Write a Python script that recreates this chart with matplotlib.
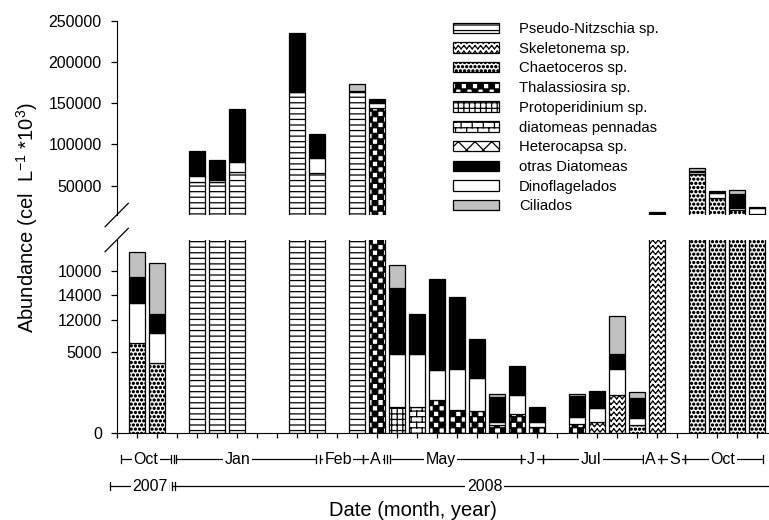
import warnings
import numpy as np
import matplotlib
matplotlib.use("Agg")
import matplotlib.pyplot as plt
from matplotlib import hatch as mhatch
from matplotlib.path import Path
from matplotlib.lines import Line2D
from matplotlib.patches import Patch
import matplotlib.transforms as mtransforms

warnings.filterwarnings("ignore", category=matplotlib.MatplotlibDeprecationWarning)

# ---------------------------------------------------------------- data
# bar slot on the time axis (one slot per sampling date)
slots = [1, 2, 4, 5, 6, 9, 10, 12, 13, 14, 15, 16, 17, 18, 19, 20, 21,
         23, 24, 25, 26, 27, 29, 30, 31, 32]

pseudo_nitzschia = [0, 0, 55000, 55000, 67000, 163000, 65500, 164000, 0, 0, 0, 0, 0,
                    0, 0, 0, 0, 0, 0, 0, 0, 0, 0, 0, 0, 0]
skeletonema = [0, 0, 0, 0, 0, 0, 0, 0, 0, 0, 0, 0, 0, 0, 0, 0, 0,
               0, 700, 2350, 0, 14500, 0, 0, 0, 0]
chaetoceros = [5540, 4340, 0, 0, 0, 0, 0, 0, 0, 0, 0, 0, 0, 0, 0, 0, 0,
               0, 0, 0, 490, 0, 64000, 35000, 20000, 15500]
thalassiosira = [0, 0, 0, 0, 0, 0, 0, 0, 144000, 0, 0, 2040, 1420, 1340, 500, 1170, 390,
                 560, 0, 0, 0, 0, 0, 0, 0, 0]
protoperidinium = [0, 0, 0, 0, 0, 0, 0, 0, 0, 1590, 0, 0, 0, 0, 0, 0, 0,
                   0, 0, 0, 0, 0, 0, 0, 0, 0]
diatomeas_pennadas = [0, 0, 0, 0, 0, 0, 0, 0, 0, 0, 1620, 0, 0, 0, 0, 0, 0,
                      0, 0, 0, 0, 0, 0, 0, 0, 0]
heterocapsa = [0] * 26
dinoflagelados = [2460, 1850, 7000, 2500, 12000, 500, 18500, 0, 6000, 3270, 3260, 1850,
                  2530, 2070, 200, 1180, 310, 410, 860, 1580, 420, 0, 3000, 6500, 2500, 7500]
otras_diatomeas = [1610, 1160, 30000, 23500, 63500, 70500, 29000, 1000, 4500, 4070, 2470,
                   5600, 4430, 2370, 1550, 1750, 920, 1330, 1030, 930, 1230, 3500, 1000,
                   1500, 17000, 1500]
ciliados = [1580, 3160, 0, 0, 0, 1200, 0, 8000, 0, 1460, 0, 0, 0, 0, 150, 60, 0,
            130, 0, 2360, 410, 0, 3000, 0, 4800, 0]

upper_ticks = [50000, 100000, 150000, 200000, 250000]
lower_ticks = [0, 5000, 7000, 8500, 10000]
lower_tick_labels = ["0", "5000", "12000", "14000", "10000"]

month_names = ["Oct", "Jan", "Feb", "A", "May", "J", "Jul", "A", "S", "Oct"]
year_names = ["2007", "2008"]

# --------------------------------------------------------- custom hatches
class ZigZagHatch(mhatch.HatchPatternBase):
    def __init__(self, hatch, density):
        self.n = hatch.count('z') * density
        self.num_vertices = self.n * self.n * 4

    def set_vertices_and_codes(self, vertices, codes):
        n = self.n
        s = 1.0 / n
        amp = 0.28 * s
        k = 0
        for i in range(n):
            yc = (i + 0.5) * s
            for j in range(n):
                x0 = j * s
                vertices[k:k + 4] = [(x0, yc - amp), (x0 + s / 2, yc + amp),
                                     (x0 + s / 2, yc + amp), (x0 + s, yc - amp)]
                codes[k:k + 4] = [Path.MOVETO, Path.LINETO, Path.MOVETO, Path.LINETO]
                k += 4


class CheckerHatch(mhatch.HatchPatternBase):
    def __init__(self, hatch, density):
        self.n = hatch.count('c') * density
        self.n -= self.n % 2
        self.num_vertices = (self.n * self.n // 2) * 5

    def set_vertices_and_codes(self, vertices, codes):
        n = self.n
        s = 1.0 / n
        k = 0
        for i in range(n):
            for j in range(n):
                if (i + j) % 2 == 0:
                    x0, y0 = j * s, i * s
                    vertices[k:k + 5] = [(x0, y0), (x0 + s, y0), (x0 + s, y0 + s),
                                         (x0, y0 + s), (x0, y0)]
                    codes[k:k + 5] = [Path.MOVETO, Path.LINETO, Path.LINETO,
                                      Path.LINETO, Path.CLOSEPOLY]
                    k += 5


class BrickHatch(mhatch.HatchPatternBase):
    def __init__(self, hatch, density):
        self.n = hatch.count('b') * density
        self.n -= self.n % 2
        self.num_vertices = 2 * self.n + 2 * self.n * (self.n // 2)

    def set_vertices_and_codes(self, vertices, codes):
        n = self.n
        s = 1.0 / n
        k = 0
        for i in range(n):
            vertices[k:k + 2] = [(0, i * s), (1, i * s)]
            codes[k:k + 2] = [Path.MOVETO, Path.LINETO]
            k += 2
        for i in range(n):
            shift = s if i % 2 else 0.0
            for j in range(n // 2):
                x = j * 2 * s + shift
                vertices[k:k + 2] = [(x, i * s), (x, (i + 1) * s)]
                codes[k:k + 2] = [Path.MOVETO, Path.LINETO]
                k += 2


class SpeckleHatch(mhatch.Circles):
    size = 0.24
    filled = True

    def __init__(self, hatch, density):
        self.num_rows = hatch.count('d') * density
        super().__init__(hatch, density)


mhatch._hatch_types.extend([ZigZagHatch, CheckerHatch, BrickHatch, SpeckleHatch])

# ---------------------------------------------------------------- style
plt.rcParams.update({
    "font.family": ["Liberation Sans", "DejaVu Sans"],
    "mathtext.fontset": "custom",
    "mathtext.rm": "Liberation Sans",
    "mathtext.default": "regular",
    "hatch.linewidth": 0.9,
})

styles = {
    "Pseudo-Nitzschia sp.": dict(facecolor="white", hatch="---"),
    "Skeletonema sp.": dict(facecolor="white", hatch="zzz"),
    "Chaetoceros sp.": dict(facecolor="white", hatch="dddd"),
    "Thalassiosira sp.": dict(facecolor="white", hatch="ccc"),
    "Protoperidinium sp.": dict(facecolor="white", hatch="+++"),
    "diatomeas pennadas": dict(facecolor="white", hatch="bbb"),
    "Heterocapsa sp.": dict(facecolor="white", hatch="xx"),
    "otras Diatomeas": dict(facecolor="black"),
    "Dinoflagelados": dict(facecolor="white"),
    "Ciliados": dict(facecolor="#c0c0c0"),
}

# stacking order from the bottom of each bar
stack = [
    ("Pseudo-Nitzschia sp.", pseudo_nitzschia),
    ("Skeletonema sp.", skeletonema),
    ("Chaetoceros sp.", chaetoceros),
    ("Thalassiosira sp.", thalassiosira),
    ("Protoperidinium sp.", protoperidinium),
    ("diatomeas pennadas", diatomeas_pennadas),
    ("Heterocapsa sp.", heterocapsa),
    ("Dinoflagelados", dinoflagelados),
    ("otras Diatomeas", otras_diatomeas),
    ("Ciliados", ciliados),
]
legend_order = ["Pseudo-Nitzschia sp.", "Skeletonema sp.", "Chaetoceros sp.",
                "Thalassiosira sp.", "Protoperidinium sp.", "diatomeas pennadas",
                "Heterocapsa sp.", "otras Diatomeas", "Dinoflagelados", "Ciliados"]

W, H = 769, 520
fig = plt.figure(figsize=(W / 100, H / 100), dpi=100)

x_left = 116.7
slot_px = 20.0
xmax = 32.57
ax_w = xmax * slot_px / W
ax_bot = fig.add_axes([x_left / W, (H - 433) / H, ax_w, (433 - 240) / H])
ax_top = fig.add_axes([x_left / W, (H - 215) / H, ax_w, (215 - 20.7) / H],
                      sharex=ax_bot)

x = np.array(slots, dtype=float)
for ax in (ax_top, ax_bot):
    bottom = np.zeros(len(slots))
    for name, vals in stack:
        v = np.array(vals, dtype=float)
        m = v > 0
        if m.any():
            ax.bar(x[m], v[m], width=0.8, bottom=bottom[m], edgecolor="black",
                   linewidth=0.9, **styles[name])
        bottom += v

ax_bot.set_xlim(0, xmax)
ax_bot.set_ylim(0, 11914)
ax_top.set_ylim(14500, 250000)

for ax in (ax_top, ax_bot):
    ax.spines["right"].set_visible(False)
    ax.spines["top"].set_visible(False)
    ax.tick_params(axis="y", direction="out", length=4.2, width=0.9,
                   labelsize=11.5, pad=6.5)
ax_top.spines["bottom"].set_visible(False)
ax_top.tick_params(axis="x", which="both", bottom=False, labelbottom=False)

ax_top.set_yticks(upper_ticks)
ax_top.set_yticklabels([str(t) for t in upper_ticks])
ax_bot.set_yticks(lower_ticks)
ax_bot.set_yticklabels(lower_tick_labels)
ax_bot.set_xticks(np.arange(0, 33))
ax_bot.tick_params(axis="x", direction="out", length=3.8, width=0.9,
                   labelbottom=False)

# axis break marks
for ax, yfrac in ((ax_top, 0.0), (ax_bot, 1.0)):
    p = ax.transAxes.transform((0, yfrac))
    dx, dy = 11.6, 11.7
    fig.add_artist(Line2D([p[0] - dx, p[0] + dx], [p[1] - dy, p[1] + dy],
                          transform=None, color="black", lw=0.9))

# time brackets under the axis
trans = mtransforms.blended_transform_factory(ax_bot.transData, ax_bot.transAxes)
month_spans = [(0.2, 2.72), (2.97, 9.97), (10.17, 12.3), (12.3, 13.35), (13.65, 20.2),
               (20.2, 21.3), (21.3, 26.3), (26.3, 27.2), (27.2, 28.4), (28.4, 32.3)]
month_text_x = [1.47, 6.04, 11.07, 12.95, 16.2, 20.72, 23.7, 26.7, 27.9, 30.3]
month_extra_ticks = [2.85, 13.5]
year_spans = [(-0.33, 2.55), (2.75, 32.57)]
year_text_x = [1.67, 18.4]
year_extra_ticks = [2.9]


def bracket_row(spans, names, text_x, extra, ypos, right_open_last=False):
    th = 0.022
    for i, ((a, b), name, tx) in enumerate(zip(spans, names, text_x)):
        ax_bot.plot([a, b], [ypos, ypos], transform=trans, color="black",
                    lw=0.9, clip_on=False)
        ends = [a] if (right_open_last and i == len(spans) - 1) else [a, b]
        for e in ends:
            ax_bot.plot([e, e], [ypos - th, ypos + th], transform=trans,
                        color="black", lw=0.9, clip_on=False)
        ax_bot.text(tx, ypos, name, transform=trans, ha="center", va="center",
                    fontsize=11.5, clip_on=False,
                    bbox=dict(facecolor="white", edgecolor="none", pad=1.2))
    for e in extra:
        ax_bot.plot([e, e], [ypos - th, ypos + th], transform=trans,
                    color="black", lw=0.9, clip_on=False)


bracket_row(month_spans, month_names, month_text_x, month_extra_ticks, -0.135)
bracket_row(year_spans, year_names, year_text_x, year_extra_ticks, -0.275,
            right_open_last=True)

fig.text(413 / W, 1 - 510 / H, "Date (month, year)", ha="center", va="center",
         fontsize=14.5)
fig.text(27 / W, 1 - 218 / H, r"Abundance (cel  L$^{-1}$ *10$^{3}$)",
         rotation=90, ha="center", va="center", fontsize=14.5)

handles = [Patch(edgecolor="black", linewidth=0.9, label=n, **styles[n])
           for n in legend_order]
fig.legend(handles=handles, loc="upper left",
           bbox_to_anchor=(453 / W, 1 - 22 / H), bbox_transform=fig.transFigure,
           frameon=False, fontsize=10.7, handlelength=3.1, handleheight=0.7,
           handletextpad=1.35, labelspacing=0.385, borderpad=0, borderaxespad=0)

fig.savefig("out.png", dpi=100)
